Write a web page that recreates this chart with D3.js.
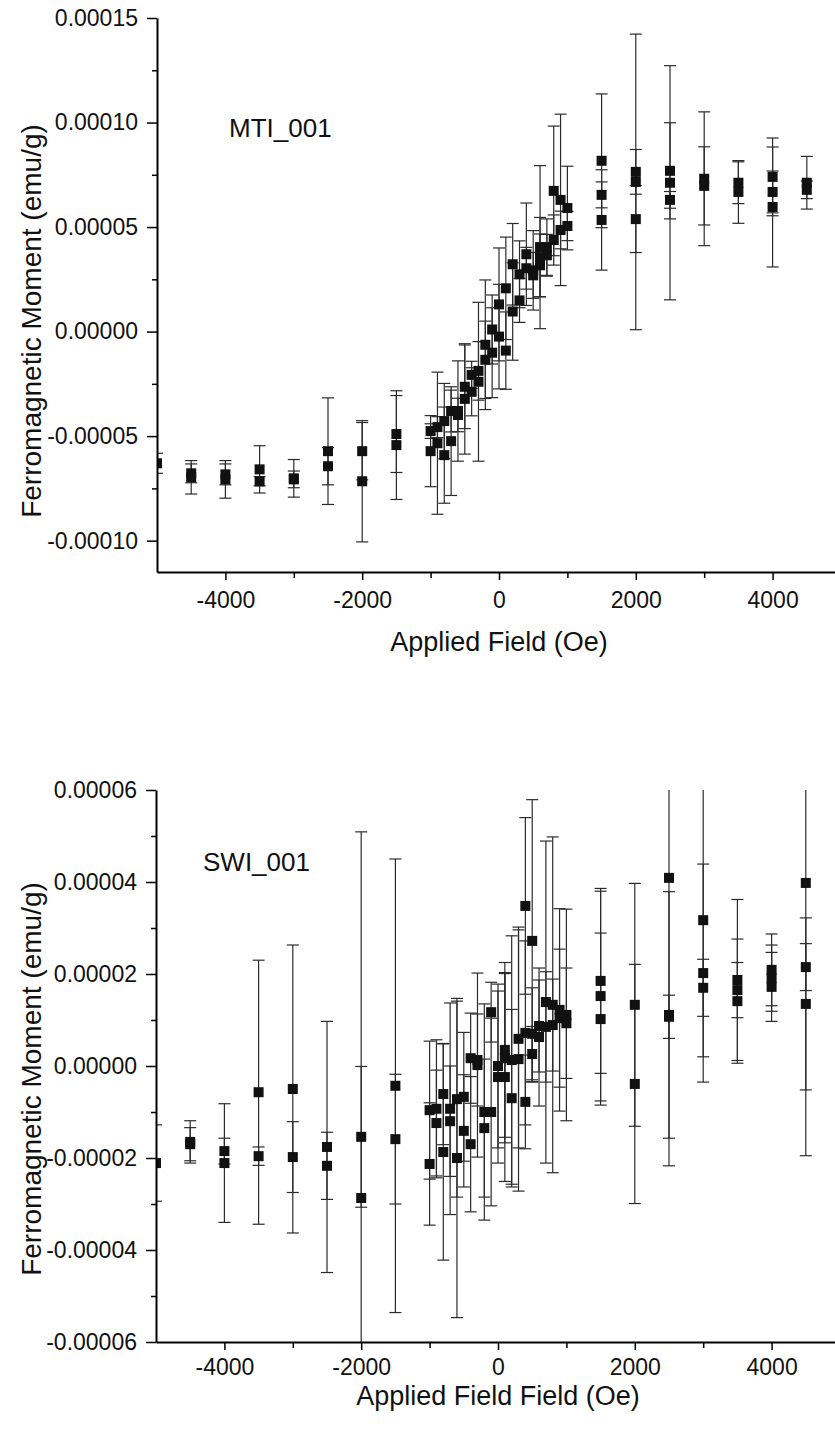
<!DOCTYPE html>
<html>
<head>
<meta charset="utf-8">
<script src="https://cdn.jsdelivr.net/npm/d3@7"></script>
<style>
body { margin: 0; background: #fff; }
svg { display: block; font-family: "Liberation Sans", Arial, sans-serif; }
</style>
</head>
<body>
<svg width="835" height="1432"></svg>
<script>
// MTI_001 : applied field (Oe), moment (emu/g), error (emu/g)
const mtiField = [
    -5000, -4500, -4500, -4000, -4000, -3500, -3500, -3000, -3000, -2500, -2500,
    -2000, -2000, -1500, -1500, -1000, -1000, -900, -900, -800, -800, -700, -700,
    -600, -600, -500, -500, -400, -400, -300, -300, -200, -200, -100, -100,
    0, 0, 100, 100, 200, 200, 300, 300, 400, 400, 500, 500, 600, 600, 600,
    700, 700, 800, 800, 900, 900, 1000, 1000,
    1500, 1500, 1500, 2000, 2000, 2000, 2500, 2500, 2500, 3000, 3000,
    3500, 3500, 4000, 4000, 4000, 4500, 4500
];
const mtiMoment = [
    -6.30e-5, -6.78e-5, -6.97e-5, -6.83e-5, -7.07e-5, -6.59e-5, -7.16e-5, -7.07e-5, -7.02e-5, -5.72e-5, -6.44e-5,
    -5.72e-5, -7.16e-5, -4.90e-5, -5.43e-5, -4.76e-5, -5.72e-5, -4.57e-5, -5.34e-5, -4.28e-5, -5.91e-5, -3.80e-5, -5.24e-5,
    -3.80e-5, -3.99e-5, -2.64e-5, -3.22e-5, -2.07e-5, -2.88e-5, -1.88e-5, -2.40e-5, -0.63e-5, -1.35e-5, 0.10e-5, -1.01e-5,
    1.30e-5, -0.24e-5, 2.07e-5, -0.91e-5, 3.22e-5, 0.96e-5, 2.74e-5, 1.49e-5, 3.70e-5, 3.03e-5, 2.93e-5, 2.69e-5, 4.04e-5, 3.56e-5, 3.17e-5,
    4.04e-5, 3.65e-5, 6.73e-5, 4.38e-5, 6.30e-5, 4.86e-5, 5.91e-5, 5.05e-5,
    8.17e-5, 6.54e-5, 5.34e-5, 7.64e-5, 7.16e-5, 5.38e-5, 7.69e-5, 7.12e-5, 6.30e-5, 7.31e-5, 6.97e-5,
    7.12e-5, 6.68e-5, 7.40e-5, 6.68e-5, 5.96e-5, 7.12e-5, 6.78e-5
];
const mtiError = [
    0.48e-5, 0.45e-5, 0.80e-5, 0.50e-5, 0.90e-5, 1.13e-5, 0.22e-5, 0.40e-5, 0.90e-5, 2.55e-5, 0.89e-5,
    1.37e-5, 2.90e-5, 1.84e-5, 2.60e-5, 0.35e-5, 1.70e-5, 0.50e-5, 3.40e-5, 1.80e-5, 2.30e-5, 1.00e-5, 2.60e-5,
    2.40e-5, 0.80e-5, 2.00e-5, 2.64e-5, 0.65e-5, 1.15e-5, 1.40e-5, 3.80e-5, 3.10e-5, 1.85e-5, 1.65e-5, 2.15e-5,
    2.70e-5, 2.50e-5, 2.45e-5, 1.85e-5, 1.95e-5, 2.33e-5, 1.60e-5, 1.05e-5, 2.45e-5, 1.00e-5, 1.90e-5, 1.10e-5, 3.90e-5, 1.90e-5, 1.50e-5,
    1.35e-5, 1.00e-5, 3.10e-5, 1.20e-5, 4.10e-5, 0.90e-5, 2.00e-5, 0.70e-5,
    3.20e-5, 0.62e-5, 2.40e-5, 1.07e-5, 7.07e-5, 1.60e-5, 2.30e-5, 5.60e-5, 0.40e-5, 3.20e-5, 1.87e-5,
    1.00e-5, 1.50e-5, 1.86e-5, 1.00e-5, 2.87e-5, 1.26e-5, 0.42e-5
];

// SWI_001
const swiField = [
    -5000, -4500, -4500, -4000, -4000, -3500, -3500, -3000, -3000, -2500, -2500,
    -2000, -2000, -1500, -1500, -1000, -1000, -900, -900, -800, -800, -700, -700,
    -600, -600, -500, -500, -400, -400, -300, -300, -200, -200, -100, -100,
    0, 0, 100, 100, 100, 200, 200, 300, 300, 400, 400, 400, 500, 500, 500,
    600, 600, 700, 700, 800, 800, 900, 900, 1000, 1000,
    1500, 1500, 1500, 2000, 2000, 2500, 2500, 2500, 3000, 3000, 3000,
    3500, 3500, 3500, 4000, 4000, 4000, 4500, 4500, 4500
];
const swiMoment = [
    -2.11e-5, -1.65e-5, -1.70e-5, -1.85e-5, -2.11e-5, -0.57e-5, -1.96e-5, -0.50e-5, -1.98e-5, -1.76e-5, -2.17e-5,
    -1.54e-5, -2.87e-5, -0.43e-5, -1.59e-5, -0.96e-5, -2.13e-5, -0.93e-5, -1.24e-5, -0.61e-5, -1.87e-5, -0.93e-5, -1.20e-5,
    -0.72e-5, -2.00e-5, -0.67e-5, -1.41e-5, 0.17e-5, -1.70e-5, 0.13e-5, 0.02e-5, -1.00e-5, -1.35e-5, 1.17e-5, -1.00e-5,
    0.00e-5, -0.24e-5, 0.35e-5, 0.17e-5, -0.24e-5, 0.13e-5, -0.70e-5, 0.59e-5, 0.15e-5, 3.48e-5, 0.72e-5, -0.78e-5, 2.72e-5, 0.70e-5, 0.26e-5,
    0.87e-5, 0.63e-5, 1.39e-5, 0.85e-5, 1.33e-5, 0.89e-5, 1.22e-5, 1.04e-5, 1.11e-5, 0.93e-5,
    1.85e-5, 1.52e-5, 1.02e-5, 1.33e-5, -0.39e-5, 4.09e-5, 1.11e-5, 1.07e-5, 3.17e-5, 2.02e-5, 1.70e-5,
    1.87e-5, 1.65e-5, 1.41e-5, 2.09e-5, 1.91e-5, 1.72e-5, 3.98e-5, 2.15e-5, 1.35e-5
];
const swiError = [
    0.83e-5, 0.46e-5, 0.36e-5, 0.28e-5, 1.29e-5, 2.87e-5, 0.20e-5, 3.13e-5, 0.77e-5, 2.73e-5, 0.73e-5,
    1.53e-5, 7.96e-5, 4.93e-5, 1.41e-5, 1.50e-5, 1.33e-5, 1.50e-5, 1.15e-5, 1.10e-5, 2.35e-5, 2.30e-5, 1.20e-5,
    2.13e-5, 3.47e-5, 1.40e-5, 1.22e-5, 0.98e-5, 1.47e-5, 1.00e-5, 2.00e-5, 2.35e-5, 1.50e-5, 0.65e-5, 2.04e-5,
    1.78e-5, 1.87e-5, 1.90e-5, 1.84e-5, 2.27e-5, 2.70e-5, 1.93e-5, 2.37e-5, 2.87e-5, 1.92e-5, 2.00e-5, 1.02e-5, 3.07e-5, 1.00e-5, 0.60e-5,
    1.00e-5, 1.50e-5, 3.50e-5, 1.20e-5, 3.65e-5, 1.00e-5, 2.20e-5, 1.50e-5, 2.30e-5, 1.20e-5,
    2.01e-5, 2.28e-5, 1.87e-5, 2.64e-5, 2.60e-5, 6.26e-5, 2.68e-5, 0.47e-5, 2.97e-5, 2.37e-5, 0.62e-5,
    1.75e-5, 0.60e-5, 1.35e-5, 0.78e-5, 0.72e-5, 0.75e-5, 5.93e-5, 0.51e-5, 1.87e-5
];

const xTicks = [-4000, -2000, 0, 2000, 4000];
const xMinorTicks = [-3000, -1000, 1000, 3000];
const mtiYTicks = [-0.0001, -0.00005, 0, 0.00005, 0.0001, 0.00015];
const mtiYMinorTicks = [-0.000075, -0.000025, 0.000025, 0.000075, 0.000125];
const swiYTicks = [-0.00006, -0.00004, -0.00002, 0, 0.00002, 0.00004, 0.00006];
const swiYMinorTicks = [-0.00005, -0.00003, -0.00001, 0.00001, 0.00003, 0.00005];

const svg = d3.select("svg");

function drawPanel(p) {
    const x = d3.scaleLinear().domain([-5000, 5000]).range([p.left, p.right]);
    const y = d3.scaleLinear().domain(p.yDomain).range([p.bottom, p.top]);
    const g = svg.append("g");

    const clipId = "clip-" + p.id;
    svg.append("clipPath").attr("id", clipId)
        .append("rect")
        .attr("x", p.left).attr("y", p.top)
        .attr("width", p.right - p.left).attr("height", p.bottom - p.top);

    const pts = p.field.map((f, i) => ({ f: f, m: p.moment[i], e: p.error[i] }));
    const marks = g.append("g").attr("clip-path", "url(#" + clipId + ")");

    // error bars with caps
    const eb = marks.selectAll(".eb").data(pts).enter().append("g")
        .attr("stroke", "#2b2b2b").attr("stroke-width", 1.2).attr("fill", "none");
    eb.append("line")
        .attr("x1", d => x(d.f)).attr("x2", d => x(d.f))
        .attr("y1", d => y(d.m - d.e)).attr("y2", d => y(d.m + d.e));
    eb.append("line")
        .attr("x1", d => x(d.f) - 6).attr("x2", d => x(d.f) + 6)
        .attr("y1", d => y(d.m + d.e)).attr("y2", d => y(d.m + d.e));
    eb.append("line")
        .attr("x1", d => x(d.f) - 6).attr("x2", d => x(d.f) + 6)
        .attr("y1", d => y(d.m - d.e)).attr("y2", d => y(d.m - d.e));

    // square markers
    marks.selectAll(".pt").data(pts).enter().append("rect")
        .attr("x", d => x(d.f) - 5).attr("y", d => y(d.m) - 5)
        .attr("width", 10).attr("height", 10)
        .attr("fill", "#111");

    // axes
    g.append("g").attr("transform", "translate(0," + p.bottom + ")")
        .call(d3.axisBottom(x).tickValues(xTicks).tickSize(8).tickSizeOuter(0)
            .tickPadding(p.xPad).tickFormat(d => String(d)));
    g.append("g").attr("transform", "translate(0," + p.bottom + ")")
        .call(d3.axisBottom(x).tickValues(xMinorTicks).tickSize(6).tickFormat(""))
        .select(".domain").remove();

    g.append("g").attr("transform", "translate(" + p.left + ",0)")
        .call(d3.axisLeft(y).tickValues(p.yTicks).tickSize(10).tickSizeOuter(0)
            .tickPadding(9).tickFormat(d => d.toFixed(5)));
    g.append("g").attr("transform", "translate(" + p.left + ",0)")
        .call(d3.axisLeft(y).tickValues(p.yMinorTicks).tickSize(5).tickFormat(""))
        .select(".domain").remove();

    g.selectAll(".domain").attr("stroke", "#000").attr("stroke-width", 2);
    g.selectAll(".tick line").attr("stroke", "#000").attr("stroke-width", 1.5);
    g.selectAll(".tick text").attr("fill", "#111")
        .style("font-size", "23px").style("font-family", "'Liberation Sans', Arial, sans-serif");

    // titles
    g.append("text")
        .attr("x", (p.left + p.right) / 2).attr("y", p.xTitleY)
        .attr("text-anchor", "middle").attr("fill", "#111")
        .style("font-size", "27px")
        .text(p.xTitle);
    g.append("text")
        .attr("transform", "translate(" + p.yTitleX + "," + p.yTitleCenter + ") rotate(-90)")
        .attr("text-anchor", "middle").attr("fill", "#111")
        .style("font-size", "28px")
        .text("Ferromagnetic Moment (emu/g)");
    g.append("text")
        .attr("x", p.labelX).attr("y", p.labelY)
        .attr("fill", "#111").style("font-size", "26px")
        .text(p.label);
}

drawPanel({
    id: "mti", field: mtiField, moment: mtiMoment, error: mtiError,
    yDomain: [-0.000115, 0.00015], yTicks: mtiYTicks, yMinorTicks: mtiYMinorTicks,
    left: 157, right: 841, top: 18, bottom: 572, xPad: 11.7,
    xTitle: "Applied Field (Oe)", xTitleY: 651,
    yTitleX: 41, yTitleCenter: 321,
    label: "MTI_001", labelX: 229, labelY: 137
});

drawPanel({
    id: "swi", field: swiField, moment: swiMoment, error: swiError,
    yDomain: [-0.00006, 0.00006], yTicks: swiYTicks, yMinorTicks: swiYMinorTicks,
    left: 156, right: 840, top: 790, bottom: 1342, xPad: 8.7,
    xTitle: "Applied Field Field (Oe)", xTitleY: 1405,
    yTitleX: 41, yTitleCenter: 1079,
    label: "SWI_001", labelX: 203, labelY: 871
});
</script>
</body>
</html>
